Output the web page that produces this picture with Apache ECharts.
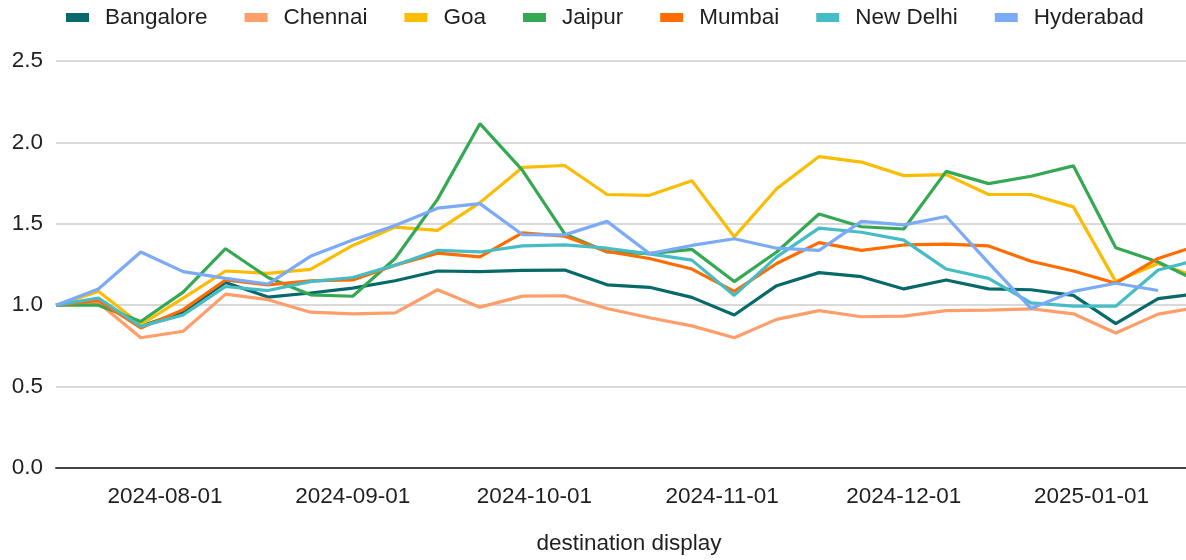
<!DOCTYPE html>
<html>
<head>
<meta charset="utf-8">
<script src="https://cdn.jsdelivr.net/npm/echarts@6/dist/echarts.min.js"></script>
<style>
html,body{margin:0;padding:0;background:#fff;}
#chart{width:1186px;height:560px;}
</style>
</head>
<body>
<div id="chart"></div>
<script>
const dates = ['2024-07-14','2024-07-21','2024-07-28','2024-08-04','2024-08-11','2024-08-18','2024-08-25',
  '2024-09-01','2024-09-08','2024-09-15','2024-09-22','2024-09-29','2024-10-06','2024-10-13',
  '2024-10-20','2024-10-27','2024-11-03','2024-11-10','2024-11-17','2024-11-24','2024-12-01',
  '2024-12-08','2024-12-15','2024-12-22','2024-12-29','2025-01-05','2025-01-12','2025-01-19'];

const bangalore = [1.0,1.03,0.87,0.96,1.14,1.05,1.075,1.105,1.15,1.21,1.206,1.214,1.216,1.125,1.11,1.048,0.94,1.12,1.20,1.175,1.10,1.155,1.10,1.095,1.06,0.887,1.04,1.074];
const chennai   = [1.0,1.015,0.80,0.84,1.068,1.034,0.957,0.947,0.953,1.095,0.988,1.056,1.058,0.98,0.923,0.873,0.80,0.913,0.967,0.929,0.933,0.967,0.97,0.978,0.947,0.829,0.945,0.99];
const goa       = [1.0,1.085,0.88,1.044,1.21,1.196,1.22,1.367,1.48,1.46,1.63,1.846,1.858,1.68,1.675,1.765,1.42,1.715,1.913,1.879,1.796,1.802,1.68,1.68,1.604,1.145,1.256,1.165];
const jaipur    = [1.0,1.0,0.90,1.08,1.347,1.17,1.064,1.055,1.287,1.65,2.115,1.83,1.438,1.327,1.317,1.343,1.145,1.327,1.56,1.482,1.468,1.822,1.747,1.792,1.856,1.353,1.265,1.14];
const mumbai    = [1.0,1.03,0.86,0.973,1.155,1.125,1.15,1.155,1.246,1.32,1.297,1.444,1.424,1.33,1.287,1.222,1.085,1.256,1.384,1.337,1.37,1.375,1.364,1.27,1.21,1.135,1.287,1.372];
const newDelhi  = [1.0,1.044,0.87,0.94,1.115,1.09,1.145,1.17,1.246,1.337,1.327,1.364,1.37,1.35,1.315,1.277,1.06,1.297,1.473,1.448,1.40,1.222,1.165,1.014,0.994,0.994,1.216,1.283];
const hyderabad = [1.0,1.10,1.327,1.206,1.165,1.13,1.30,1.40,1.49,1.596,1.624,1.434,1.432,1.515,1.317,1.367,1.408,1.35,1.337,1.515,1.493,1.545,1.26,0.98,1.085,1.135,1.09];

const seriesNames = ['Bangalore','Chennai','Goa','Jaipur','Mumbai','New Delhi','Hyderabad'];
const seriesValues = [bangalore, chennai, goa, jaipur, mumbai, newDelhi, hyderabad];
const colors = ['#076969','#ff9e6b','#fbbc04','#34a853','#ff6d01','#46bdc6','#7baaf7'];

const FONT = 'Liberation Sans, Arial, Helvetica, sans-serif';
const TXT = '#1f1f1f';

const chart = echarts.init(document.getElementById('chart'), null, {renderer:'canvas'});
chart.setOption({
  animation: false,
  backgroundColor: '#ffffff',
  color: colors,
  textStyle: {fontFamily: FONT},
  legend: {
    left: 66, top: 6, padding: 0,
    itemWidth: 23, itemHeight: 9, itemGap: 37,
    icon: 'rect',
    textStyle: {fontSize: 22.5, color: TXT, fontFamily: FONT, padding: [0,0,0,11]},
    data: seriesNames
  },
  grid: {left: 56, right: 0, top: 61, bottom: 89, containLabel: false},
  xAxis: {
    type: 'time',
    min: '2024-07-14',
    max: '2025-01-16 14:24',
    name: 'destination display',
    nameLocation: 'middle',
    nameGap: 64,
    nameTextStyle: {fontSize: 22.5, color: TXT, fontFamily: FONT, padding: [0,0,0,16]},
    axisLine: {show: true, lineStyle: {color: '#444', width: 2}},
    axisTick: {show: false},
    splitLine: {show: false},
    minInterval: 28*86400000,
    maxInterval: 31*86400000,
    axisLabel: {
      fontSize: 22.5, color: TXT, fontFamily: FONT, margin: 17,
      showMinLabel: false, showMaxLabel: false,
      formatter: '{yyyy}-{MM}-{dd}'
    }
  },
  yAxis: {
    type: 'value',
    min: 0, max: 2.5, interval: 0.5,
    axisLine: {show: false},
    axisTick: {show: false},
    splitLine: {lineStyle: {color: '#cccccc', width: 1.5}},
    axisLabel: {fontSize: 22.5, color: TXT, fontFamily: FONT, margin: 13,
      formatter: v => v.toFixed(1)}
  },
  series: seriesNames.map((n, k) => ({
    name: n,
    type: 'line',
    showSymbol: false,
    symbol: 'none',
    clip: true,
    lineStyle: {width: 3.2, color: colors[k]},
    itemStyle: {color: colors[k]},
    data: seriesValues[k].map((v, i) => [dates[i], v])
  }))
});
</script>
</body>
</html>
